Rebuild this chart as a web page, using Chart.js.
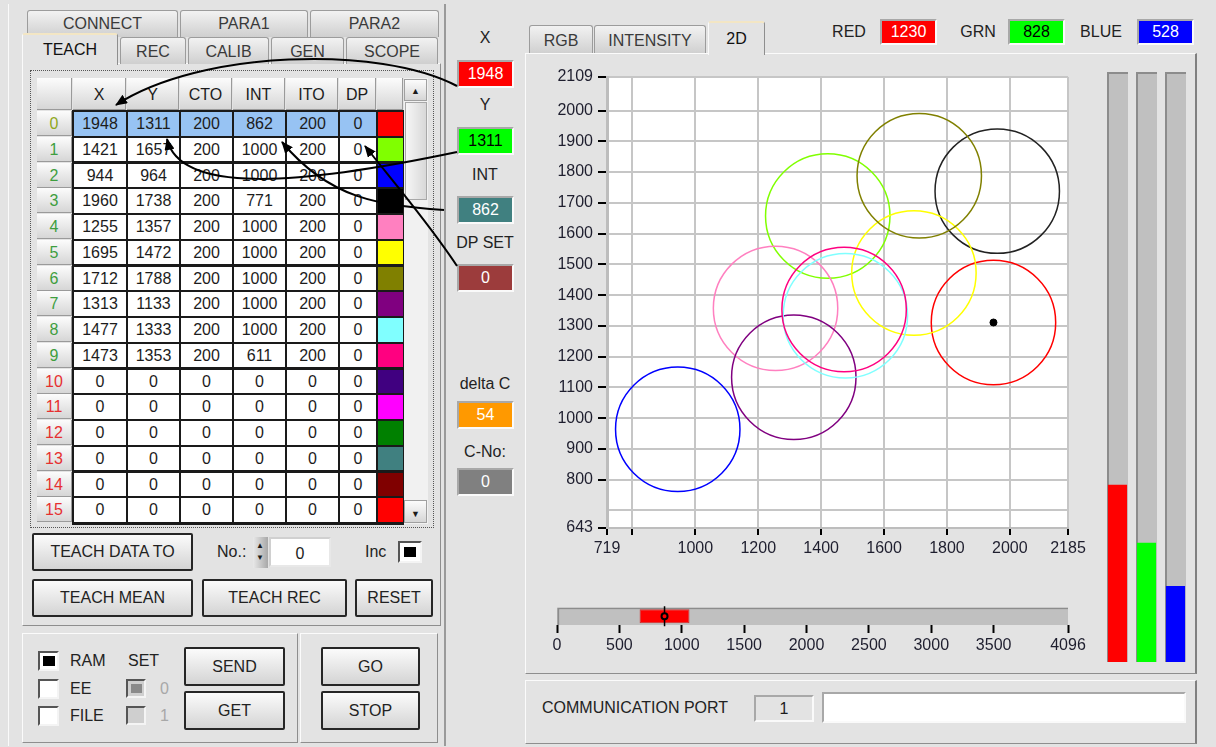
<!DOCTYPE html>
<html>
<head>
<meta charset="utf-8">
<script src="https://cdn.jsdelivr.net/npm/chart.js@4.4.1/dist/chart.umd.min.js"></script>
<style>
body{margin:0;width:1216px;height:747px;background:#e3e3e3;font-family:"Liberation Sans",Arial,sans-serif;font-size:16px;color:#1c1c1c;position:relative;overflow:hidden}
.a{position:absolute;box-sizing:border-box}
.panel{position:absolute;box-sizing:border-box;border:1px solid;border-color:#fbfbfb #8e8e8e #8e8e8e #fbfbfb;background:#e3e3e3}
.tab{position:absolute;box-sizing:border-box;background:linear-gradient(#f2f2f2,#cfcfcf);border:1px solid #9c9c9c;border-bottom:none;border-radius:3px 3px 0 0;text-align:center;color:#3a3a3a}
.tab.on{background:#e3e3e3;color:#111;border-color:#fafafa #8e8e8e #8e8e8e #fafafa;border-top:2px solid #f3e6c4}
.btn{position:absolute;box-sizing:border-box;background:linear-gradient(#fbfbfb,#d4d4d4);border:2px solid #262626;border-radius:2px;text-align:center;color:#222}
.ind{position:absolute;box-sizing:border-box;text-align:center;border:2px solid;border-color:#a8a8a8 #fafafa #fafafa #a8a8a8}
.lbl{position:absolute;white-space:nowrap;color:#222}
.hdr{position:absolute;box-sizing:border-box;background:linear-gradient(#fcfcfc,#d6d6d6);border-right:1px solid #9a9a9a;border-bottom:1px solid #9a9a9a;text-align:center}
.cell{position:absolute;box-sizing:border-box;background:#fff;text-align:center}
.chk{position:absolute;box-sizing:border-box;background:#fff;border:2px solid;border-color:#555 #f4f4f4 #f4f4f4 #555}
canvas{position:absolute}
</style>
</head>
<body>
<script>
// teach table (rows 0..15)
const teachX   = [1948, 1421, 944, 1960, 1255, 1695, 1712, 1313, 1477, 1473, 0, 0, 0, 0, 0, 0];
const teachY   = [1311, 1657, 964, 1738, 1357, 1472, 1788, 1133, 1333, 1353, 0, 0, 0, 0, 0, 0];
const teachCTO = [200, 200, 200, 200, 200, 200, 200, 200, 200, 200, 0, 0, 0, 0, 0, 0];
const teachINT = [862, 1000, 1000, 771, 1000, 1000, 1000, 1000, 1000, 611, 0, 0, 0, 0, 0, 0];
const teachITO = [200, 200, 200, 200, 200, 200, 200, 200, 200, 200, 0, 0, 0, 0, 0, 0];
const teachDP  = [0, 0, 0, 0, 0, 0, 0, 0, 0, 0, 0, 0, 0, 0, 0, 0];
const rowColors = ['#ff0000', '#80ff00', '#0000ff', '#000000', '#ff80c0', '#ffff00', '#808000', '#800080',
                   '#80ffff', '#ff0080', '#400080', '#ff00ff', '#008000', '#408080', '#800000', '#ff0000'];

// current measurement
const measX = 1948, measY = 1311, measINT = 862, dpSet = 0, deltaC = 54, cNo = 0;
const rgbNames  = ['RED', 'GRN', 'BLUE'];
const rgbValues = [1230, 828, 528];
const rgbColors = ['#ff0000', '#00ff00', '#0000ff'];

// axis ticks
const xTicks = [719, 800, 1000, 1200, 1400, 1600, 1800, 2000, 2185];
const yTicks = [643, 700, 800, 900, 1000, 1100, 1200, 1300, 1400, 1500, 1600, 1700, 1800, 1900, 2000, 2109];
const intTicks = [0, 500, 1000, 1500, 2000, 2500, 3000, 3500, 4096];

function el(cls, x, y, w, h, html, extra) {
  const d = document.createElement('div');
  d.className = cls;
  d.style.left = x + 'px'; d.style.top = y + 'px';
  if (w != null) d.style.width = w + 'px';
  if (h != null) { d.style.height = h + 'px'; d.style.lineHeight = (h - 4) + 'px'; }
  if (html != null) d.innerHTML = html;
  if (extra) Object.assign(d.style, extra);
  document.body.appendChild(d);
  return d;
}
function lbl(x, cy, text, extra) {
  const d = el('lbl', x, cy - 10, null, null, text, extra);
  d.style.lineHeight = '20px';
  return d;
}
function clbl(cx, cy, text, extra) {
  return el('lbl', cx - 50, cy - 10, 100, null, text, Object.assign({textAlign: 'center', lineHeight: '20px'}, extra || {}));
}

// ---------- left side ----------
el('a', 8, 4, 437, 742, null, {borderLeft: '1px solid #fafafa', borderRight: '1px solid #8e8e8e'});
el('tab', 27, 10, 151, 27, 'CONNECT', {lineHeight: '25px'});
el('tab', 180, 10, 128, 27, 'PARA1', {lineHeight: '25px'});
el('tab', 310, 10, 129, 27, 'PARA2', {lineHeight: '25px'});
el('panel', 22, 63, 419, 563);
el('tab', 120, 37, 66, 27, 'REC', {lineHeight: '27px'});
el('tab', 188, 37, 81, 27, 'CALIB', {lineHeight: '27px'});
el('tab', 271, 37, 73, 27, 'GEN', {lineHeight: '27px'});
el('tab', 346, 37, 92, 27, 'SCOPE', {lineHeight: '27px'});
el('tab on', 22, 33, 96, 32, 'TEACH', {lineHeight: '30px', borderBottom: 'none'});

// table frame
el('a', 30, 70, 404, 458, null, {border: '1px dotted #555'});
el('a', 72, 110, 332, 415, null, {background: '#1a1a1a'});
const colEdge = [37, 73, 127, 180, 233, 286, 339, 377, 404];
const heads = ['', 'X', 'Y', 'CTO', 'INT', 'ITO', 'DP', ''];
for (let c = 0; c < 8; c++) {
  el('hdr', colEdge[c], 78, colEdge[c + 1] - colEdge[c] - 1, 32, heads[c], {lineHeight: '34px'});
}
const cols = [teachX, teachY, teachCTO, teachINT, teachITO, teachDP];
for (let r = 0; r < 16; r++) {
  const top = 112 + r * 25.75;
  const hc = r === 0 ? '#8fa81c' : (r < 10 ? '#3e9e3e' : '#e63030');
  el('hdr', 37, top - 1, 35, 25, String(r), {color: hc, lineHeight: '25px'});
  for (let c = 0; c < 6; c++) {
    const x0 = colEdge[c + 1] + 1, w = colEdge[c + 2] - colEdge[c + 1] - 2;
    el('cell', x0, top, w, 23.5, String(cols[c][r]), {lineHeight: '24px', background: r === 0 ? '#97c3f3' : '#fff'});
  }
  el('cell', 378, top, 25, 23.5, '', {background: rowColors[r]});
}
// scrollbar
el('a', 404, 78, 24, 446, null, {background: '#f1f1f1'});
el('hdr', 404, 79, 23, 22, '<span style="font-size:9px">&#9650;</span>', {lineHeight: '18px', border: '1px solid #a0a0a0'});
el('hdr', 405, 102, 22, 98, '', {border: '1px solid #a8a8a8', background: 'linear-gradient(90deg,#f6f6f6,#d8d8d8)'});
el('hdr', 404, 500, 23, 23, '<span style="font-size:9px">&#9660;</span>', {lineHeight: '22px', border: '1px solid #a0a0a0'});

// teach buttons
el('btn', 32, 533, 161, 38, 'TEACH DATA TO', {lineHeight: '34px'});
lbl(217, 552, 'No.:');
el('a', 253, 537, 15, 31, '<span style="font-size:8px;line-height:8px;position:absolute;top:5px;left:3px">&#9650;</span><span style="font-size:8px;position:absolute;top:17px;left:3px;line-height:8px">&#9660;</span>', {background: 'linear-gradient(90deg,#e8e8e8,#a8a8a8)'});
el('a', 269, 537, 62, 30, '0', {background: '#fff', textAlign: 'center', lineHeight: '30px', border: '2px solid', borderColor: '#d0d0d0 #e8e8e8 #e8e8e8 #d0d0d0'});
lbl(365, 552, 'Inc');
el('chk', 398, 541, 24, 22, '<div style="position:absolute;left:4px;top:4px;width:12px;height:10px;background:#000"></div>');
el('btn', 32, 579, 161, 38, 'TEACH MEAN', {lineHeight: '34px'});
el('btn', 202, 579, 145, 38, 'TEACH REC', {lineHeight: '34px'});
el('btn', 355, 579, 78, 38, 'RESET', {lineHeight: '34px'});

// bottom left panels
el('panel', 22, 633, 276, 110);
el('panel', 300, 633, 138, 110);
el('chk', 38, 651, 21, 20, '<div style="position:absolute;left:3px;top:3px;width:12px;height:10px;background:#000"></div>');
lbl(70, 661, 'RAM'); lbl(128, 661, 'SET');
el('chk', 38, 679, 21, 20); lbl(70, 689, 'EE');
el('chk', 126, 679, 20, 19, '<div style="position:absolute;left:3px;top:3px;width:11px;height:9px;background:#8a8a8a"></div>', {background: '#cfcfcf'});
lbl(160, 689, '0', {color: '#a8a8a8'});
el('chk', 38, 706, 21, 20); lbl(70, 716, 'FILE');
el('chk', 126, 706, 20, 19, '', {background: '#cfcfcf'});
lbl(160, 716, '1', {color: '#a8a8a8'});
el('btn', 184, 647, 101, 39, 'SEND', {lineHeight: '35px'});
el('btn', 184, 691, 101, 39, 'GET', {lineHeight: '35px'});
el('btn', 321, 647, 99, 39, 'GO', {lineHeight: '35px'});
el('btn', 321, 691, 99, 39, 'STOP', {lineHeight: '35px'});

// ---------- middle column ----------
el('a', 444, 4, 82, 742, null, {borderLeft: '2px solid #9a9a9a'});
const mid = [
  ['X', 38, measX, '#ff0000', '#fff', 60],
  ['Y', 105, measY, '#00ff00', '#000', 127],
  ['INT', 175, measINT, '#408080', '#fff', 196],
  ['DP SET', 243, dpSet, '#9c3c3c', '#fff', 264],
  ['delta C', 384, deltaC, '#ff9900', '#fff', 401],
  ['C-No:', 452, cNo, '#808080', '#fff', 468]
];
for (const m of mid) {
  clbl(485, m[1], m[0]);
  el('ind', 457, m[5], 57, 28, String(m[2]), {background: m[3], color: m[4], lineHeight: '24px'});
}

// ---------- right side ----------
el('tab', 529, 25, 64, 29, 'RGB', {lineHeight: '29px'});
el('tab', 594, 25, 112, 29, 'INTENSITY', {lineHeight: '29px'});
el('panel', 525, 53, 672, 621, null, {borderRight: '2px solid #808080'});
el('tab on', 708, 21, 57, 34, '2D', {lineHeight: '32px', borderBottom: 'none'});
const rgbPos = [[849, 880], [978, 1008], [1101, 1137]];
rgbNames.forEach((n, i) => {
  clbl(rgbPos[i][0], 32, n);
  el('ind', rgbPos[i][1], 19, 57, 26, String(rgbValues[i]), {background: rgbColors[i], color: i === 1 ? '#000' : '#fff', lineHeight: '22px'});
});
el('panel', 525, 680, 672, 64, null, {borderRight: '2px solid #808080'});
lbl(542, 708, 'COMMUNICATION PORT');
el('ind', 754, 695, 60, 27, '1', {background: '#e3e3e3', lineHeight: '23px'});
el('ind', 822, 692, 364, 31, '', {background: '#fff'});

// canvases
function cv(id, x, y, w, h) {
  const c = document.createElement('canvas');
  c.id = id; c.width = w; c.height = h;
  c.style.left = x + 'px'; c.style.top = y + 'px';
  document.body.appendChild(c);
  return c;
}
const c2d = cv('c2d', 540, 60, 548, 520);
const cInt = cv('cInt', 540, 596, 560, 70);
const cRgb = cv('cRgb', 1100, 66, 95, 600);
</script>

<svg class="a" style="left:0;top:0;z-index:10;pointer-events:none" width="1216" height="747">
  <defs>
    <marker id="ah" viewBox="0 0 12 10" refX="11" refY="5" markerWidth="12" markerHeight="10" markerUnits="userSpaceOnUse" orient="auto">
      <path d="M0,0 L12,5 L0,10 Z" fill="#000"/>
    </marker>
  </defs>
  <g fill="none" stroke="#000" stroke-width="2">
    <path d="M457,86 C380,45 200,50 116,105" marker-end="url(#ah)"/>
    <path d="M457,152 C300,185 180,195 167,139" marker-end="url(#ah)"/>
    <path d="M444,210 C380,205 330,200 282,142" marker-end="url(#ah)"/>
    <path d="M457,266 C430,225 400,190 365,146" marker-end="url(#ah)"/>
  </g>
</svg>

<script>
const FONT = {family: '"Liberation Sans", Arial, sans-serif', size: 16};
const TICKCOL = '#1e1e2e';

const plotBg = {
  id: 'plotBg',
  beforeDraw(chart) {
    const a = chart.chartArea, ctx = chart.ctx;
    ctx.save();
    ctx.fillStyle = '#fff';
    ctx.fillRect(a.left, a.top, a.right - a.left, a.bottom - a.top);
    ctx.restore();
  }
};

// 2D colour chart: teach circles (radius = CTO) and the current point
const teachRows = [];
for (let i = 0; i < teachX.length; i++) {
  if (teachCTO[i] > 0) teachRows.push({x: teachX[i], y: teachY[i], r: teachCTO[i], col: rowColors[i]});
}

new Chart(c2d, {
  type: 'scatter',
  data: {
    datasets: [
      {
        data: [{x: measX, y: measY}],
        pointRadius: 3.5,
        pointBackgroundColor: '#000',
        pointBorderColor: '#000',
        order: 0
      },
      {
        data: teachRows,
        pointRadius: ctx => {
          const ch = ctx.chart, p = ctx.raw;
          const rx = Math.abs(ch.scales.x.getPixelForValue(p.x + p.r) - ch.scales.x.getPixelForValue(p.x));
          const ry = Math.abs(ch.scales.y.getPixelForValue(p.y + p.r) - ch.scales.y.getPixelForValue(p.y));
          return (rx + ry) / 2;
        },
        pointBackgroundColor: 'rgba(0,0,0,0)',
        pointBorderColor: ctx => ctx.raw.col === '#000000' ? '#222' : ctx.raw.col,
        pointBorderWidth: 1.5,
        order: 1
      }
    ]
  },
  options: {
    responsive: false,
    animation: false,
    events: [],
    layout: {padding: {left: 0, top: 17, right: 20, bottom: 16}},
    plugins: {legend: {display: false}, tooltip: {enabled: false}},
    scales: {
      x: {
        type: 'linear', min: 719, max: 2185,
        afterBuildTicks: s => { s.ticks = xTicks.map(v => ({value: v})); },
        afterFit: s => { s.height = 36; s.paddingLeft = 0; s.paddingRight = 0; },
        grid: {color: '#c6c6c6', lineWidth: 2, tickColor: '#000', tickLength: 7, tickWidth: 2},
        border: {display: true, color: '#bdbdbd', width: 2},
        ticks: {callback: v => v === 800 ? '' : String(v), color: TICKCOL, font: FONT, autoSkip: false, maxRotation: 0, padding: 4}
      },
      y: {
        type: 'linear', min: 643, max: 2109,
        afterBuildTicks: s => { s.ticks = yTicks.map(v => ({value: v})); },
        afterFit: s => { s.width = 67; s.paddingTop = 0; s.paddingBottom = 0; },
        grid: {color: '#c6c6c6', lineWidth: 2, tickColor: ctx => ctx.tick && ctx.tick.value === 700 ? 'rgba(0,0,0,0)' : '#000', tickLength: 9, tickWidth: 2},
        border: {display: true, color: '#bdbdbd', width: 3},
        ticks: {callback: v => v === 700 ? '' : String(v), color: TICKCOL, font: FONT, autoSkip: false, padding: 5}
      }
    }
  },
  plugins: [plotBg]
});

// intensity slider: INT +/- ITO of the selected row, marker at measured INT
const selRow = 0;
new Chart(cInt, {
  type: 'bar',
  data: {
    labels: ['INT'],
    datasets: [
      {
        type: 'scatter',
        data: [{x: measINT, y: 'INT'}],
        pointStyle: 'line', rotation: 90, pointRadius: 10,
        borderColor: '#000', borderWidth: 1.5,
        order: 1
      },
      {
        type: 'scatter',
        data: [{x: measINT, y: 'INT'}],
        pointRadius: 3, pointBackgroundColor: '#ff0000', pointBorderColor: '#000', pointBorderWidth: 2,
        order: 0
      },
      {
        data: [[teachINT[selRow] - teachITO[selRow], teachINT[selRow] + teachITO[selRow]]],
        backgroundColor: '#ff0000', borderColor: '#c83030', borderWidth: 1, borderSkipped: false,
        barPercentage: 0.8, categoryPercentage: 1, grouped: false,
        order: 2
      },
      {
        data: [[0, 4096]],
        backgroundColor: '#c0c0c0', borderColor: '#8c8c8c', borderWidth: {top: 2, left: 2, right: 0, bottom: 0}, borderSkipped: false,
        barPercentage: 1, categoryPercentage: 1, grouped: false,
        order: 3
      }
    ]
  },
  options: {
    indexAxis: 'y',
    responsive: false,
    animation: false,
    events: [],
    layout: {padding: {left: 17, top: 8, right: 32, bottom: 0}},
    plugins: {legend: {display: false}, tooltip: {enabled: false}},
    scales: {
      x: {
        type: 'linear', min: 0, max: 4096,
        afterBuildTicks: s => { s.ticks = intTicks.map(v => ({value: v})); },
        afterFit: s => { s.height = 41; s.paddingLeft = 0; s.paddingRight = 0; },
        grid: {drawOnChartArea: false, tickColor: '#000', tickLength: 8, tickWidth: 2},
        border: {display: false},
        ticks: {callback: v => String(v), color: TICKCOL, font: FONT, autoSkip: false, maxRotation: 0, padding: 3}
      },
      y: {type: 'category', display: false}
    }
  }
});

// RGB level bars
new Chart(cRgb, {
  type: 'bar',
  data: {
    labels: rgbNames,
    datasets: [
      {
        data: rgbValues,
        backgroundColor: rgbColors,
        barPercentage: 0.66, categoryPercentage: 1, grouped: false,
        order: 0
      },
      {
        data: rgbNames.map(() => 4096),
        backgroundColor: '#c0c0c0', borderColor: '#8c8c8c', borderWidth: {top: 2, left: 2, right: 0, bottom: 0}, borderSkipped: false,
        barPercentage: 0.724, categoryPercentage: 1, grouped: false,
        order: 1
      }
    ]
  },
  options: {
    responsive: false,
    animation: false,
    events: [],
    layout: {padding: {left: 3, top: 6, right: 5, bottom: 4}},
    plugins: {legend: {display: false}, tooltip: {enabled: false}},
    scales: {
      x: {display: false},
      y: {display: false, min: 0, max: 4096}
    }
  }
});
</script>
</body>
</html>
